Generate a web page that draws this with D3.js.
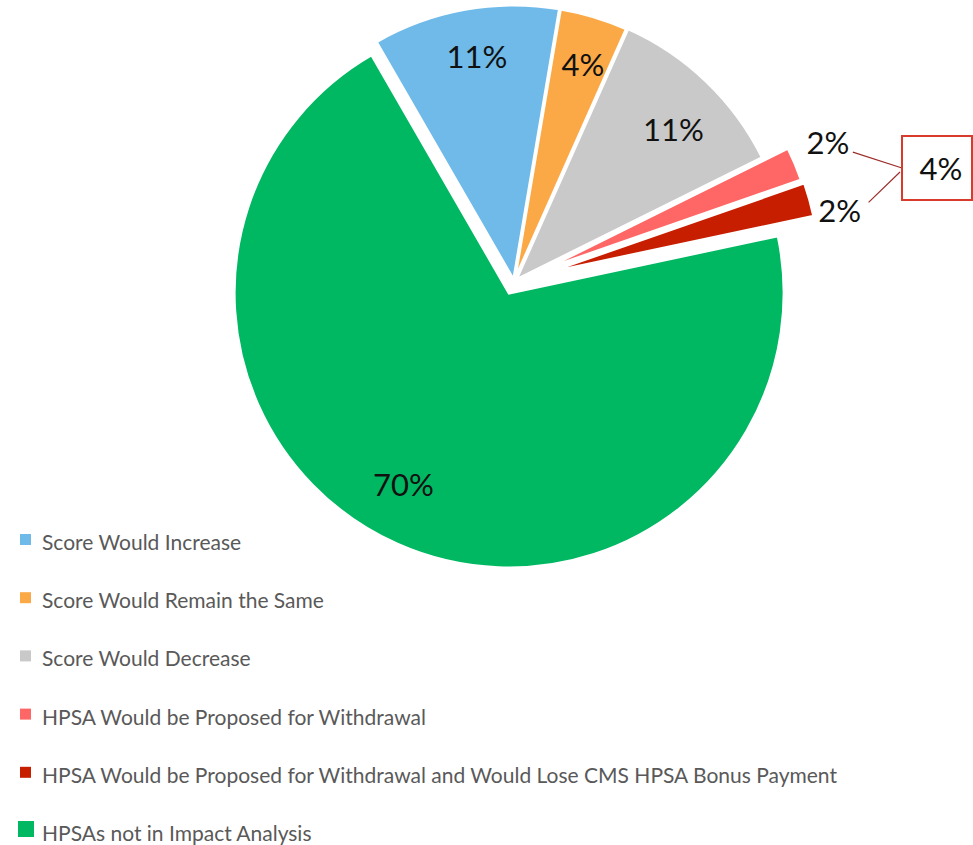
<!DOCTYPE html>
<html>
<head>
<meta charset="utf-8">
<script src="https://cdn.jsdelivr.net/npm/d3@7"></script>
<style>
  html, body { margin: 0; padding: 0; background: #ffffff; }
  svg { display: block; }
</style>
</head>
<body>
<svg id="chart" width="973" height="845"></svg>
<script>
// ---------- data ----------
const categories = [
  "Score Would Increase",
  "Score Would Remain the Same",
  "Score Would Decrease",
  "HPSA Would be Proposed for Withdrawal",
  "HPSA Would be Proposed for Withdrawal and Would Lose CMS HPSA Bonus Payment",
  "HPSAs not in Impact Analysis"
];
const values = [11, 4, 11, 2, 2, 70];
const valueLabels = ["11%", "4%", "11%", "2%", "2%", "70%"];
const groupLabel = "4%";
const colors = ["#6fbae9", "#fba946", "#c9c9c9", "#ff6666", "#c81e00", "#00b862"];

// ---------- layout / style ----------
const W = 973, H = 845;
const cx = 514, cy = 282, R = 275;
const explode = [2, 2, 3, 30, 32, 12];
const labelR = [227, 227, 218, 305, 305, 218];
const labelAngleNudge = [0.9, 0.7, 2.4, 0, 0, 5];
const labelNudge = [[0,0],[0,0],[0,0],[5,-10],[1,19],[0,0]];

const svg = d3.select("#chart");
const deg = Math.PI / 180;

const pie = d3.pie().sort(null).value(d => d)
  .startAngle(-30 * deg).endAngle(330 * deg);
const arcs = pie(values);
const arc = d3.arc().innerRadius(0).outerRadius(R);

function offset(a, e) {
  const m = (a.startAngle + a.endAngle) / 2;
  return [cx + e * Math.sin(m), cy - e * Math.cos(m)];
}

const g = svg.append("g");
arcs.forEach((a, i) => {
  const [ox, oy] = offset(a, explode[i]);
  g.append("path")
    .attr("transform", `translate(${ox},${oy})`)
    .attr("d", arc(a))
    .attr("fill", colors[i])
    .attr("stroke", "#ffffff")
    .attr("stroke-width", 3)
    .attr("stroke-linejoin", "miter");
});

const labelFont = "Lato, 'Open Sans', sans-serif";
const labelPos = [];
arcs.forEach((a, i) => {
  const [ox, oy] = offset(a, explode[i]);
  const m = (a.startAngle + a.endAngle) / 2 + labelAngleNudge[i] * deg;
  const px = ox + labelR[i] * Math.sin(m) + labelNudge[i][0];
  const py = oy - labelR[i] * Math.cos(m) + labelNudge[i][1];
  labelPos.push([px, py]);
  svg.append("text")
    .attr("x", px).attr("y", py)
    .attr("text-anchor", "middle")
    .attr("dominant-baseline", "central")
    .attr("font-family", labelFont)
    .attr("font-size", 31)
    .attr("fill", "#111111")
    .text(valueLabels[i]);
});

// grouped callout box for the two small slices
const box = { x: 902, y: 136, w: 70, h: 64 };
const starts = [[labelPos[3][0] + 25, labelPos[3][1] + 10], [labelPos[4][0] + 29, labelPos[4][1] - 8]];
const ends = [[box.x, box.y + box.h / 2], [box.x - 2, box.y + box.h / 2 + 4]];
starts.forEach((s, k) => {
  svg.append("line")
    .attr("x1", s[0]).attr("y1", s[1])
    .attr("x2", ends[k][0]).attr("y2", ends[k][1])
    .attr("stroke", "#9b2d2a")
    .attr("stroke-width", 1.2);
});
svg.append("rect")
  .attr("x", box.x).attr("y", box.y)
  .attr("width", box.w).attr("height", box.h)
  .attr("fill", "#ffffff")
  .attr("stroke", "#d83b2c")
  .attr("stroke-width", 2);
svg.append("text")
  .attr("x", box.x + box.w / 2 + 4).attr("y", box.y + box.h / 2)
  .attr("text-anchor", "middle")
  .attr("dominant-baseline", "central")
  .attr("font-family", labelFont)
  .attr("font-size", 31)
  .attr("fill", "#111111")
  .text(groupLabel);

// ---------- legend ----------
const legendY = d3.scaleLinear().domain([0, categories.length - 1]).range([550, 841]);
const leg = svg.append("g");
categories.forEach((c, i) => {
  const y = legendY(i);
  const big = i === categories.length - 1;
  const s = big ? 16 : 11;
  leg.append("rect")
    .attr("x", big ? 18 : 20)
    .attr("y", big ? y - 20 : y - 16)
    .attr("width", s).attr("height", s)
    .attr("fill", colors[i]);
  leg.append("text")
    .attr("x", 42).attr("y", y)
    .attr("font-family", labelFont)
    .attr("font-size", 21)
    .attr("fill", "#595959")
    .text(c);
});
</script>
</body>
</html>
